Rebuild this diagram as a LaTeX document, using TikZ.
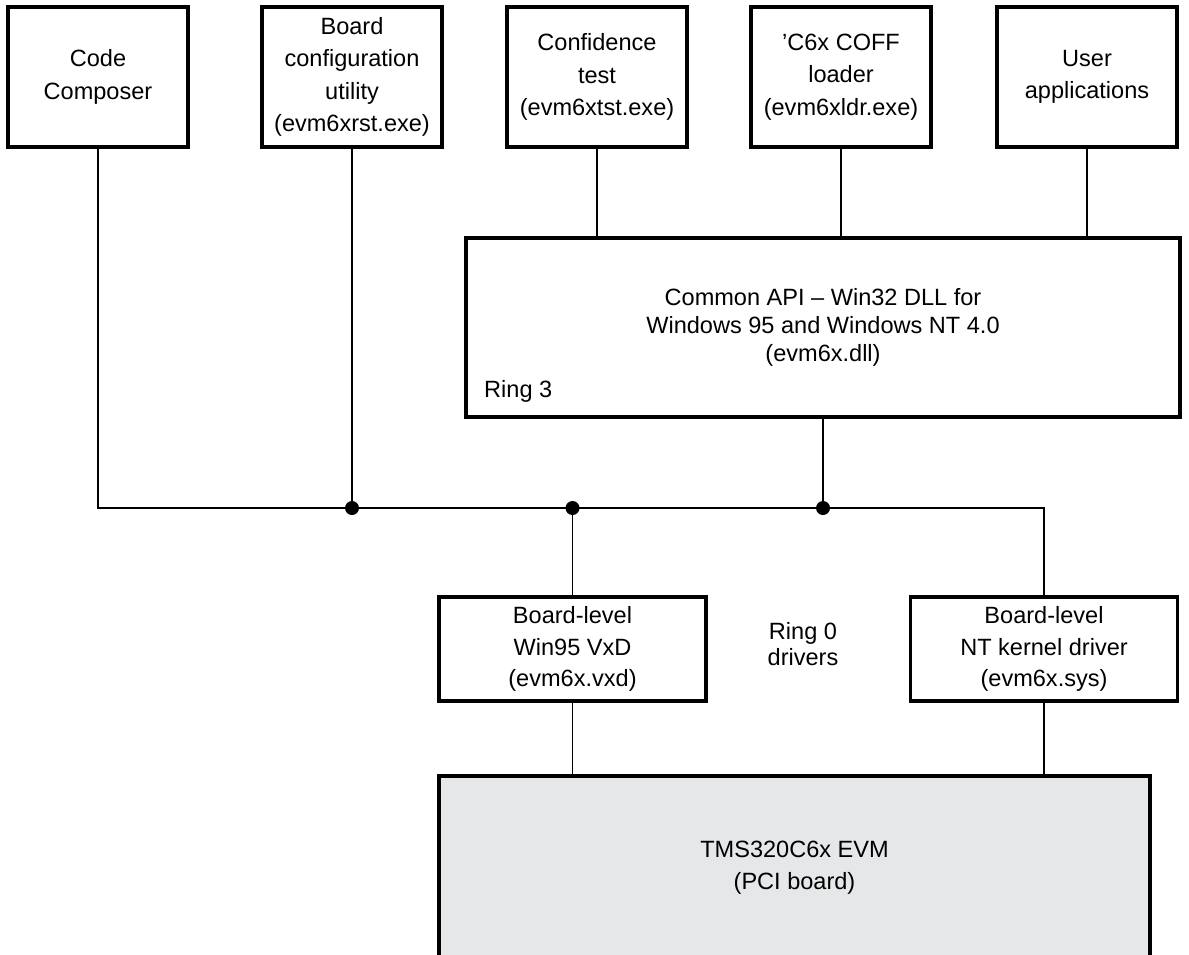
\documentclass[tikz,border=0pt]{standalone}
\usepackage{fontspec}
\setmainfont{Liberation Sans}
\usetikzlibrary{positioning}
\definecolor{boardgray}{HTML}{E6E7E8}

\begin{document}
\begin{tikzpicture}[
  x=0.02cm, y=-0.02cm,
  box/.style={rectangle, draw, line width=2pt, fill=white, align=center, inner sep=2pt},
  appbox/.style={box, minimum width=3.6cm, minimum height=2.8cm},
  drvbox/.style={box, minimum width=5.34cm, minimum height=2.08cm},
  link/.style={line width=0.6pt},
  junction/.style={circle, fill, inner sep=0pt, minimum size=0.28cm},
  font=\fontsize{13.4}{18.4}\selectfont
]
\useasboundingbox (0,0) rectangle (1189,954);

% Applications
\node[appbox] (cc) at (98,77) {Code\\Composer};
\node[appbox] (bcu) at (352,77) {Board\\configuration\\utility\\(evm6xrst.exe)};
\node[appbox] (conf) at (597,77) {Confidence\\test\\(evm6xtst.exe)};
\node[appbox] (coff) at (841,77) {'C6x COFF\\loader\\(evm6xldr.exe)};
\node[appbox] (user) at (1087,77) {User\\applications};

% Common API
\node[box, minimum width=14.28cm, minimum height=3.58cm,
  font=\fontsize{13.4}{16}\selectfont] (api) at (823,327.5)
  {Common API -- Win32 DLL for\\Windows 95 and Windows NT 4.0\\(evm6x.dll)};
\node[anchor=base west] (ring3) at (478,397) {Ring 3};

% Drivers
\node[drvbox, font=\fontsize{13.4}{18}\selectfont] (vxd) at (572.5,649) {Board-level\\Win95 VxD\\(evm6x.vxd)};
\node[drvbox, font=\fontsize{13.4}{18}\selectfont] (ntd) at (1044,649) {Board-level\\NT kernel driver\\(evm6x.sys)};
\node[align=center, font=\fontsize{13.4}{14.5}\selectfont] (ring0) at (803,644) {Ring 0\\drivers};

% Board
\begin{scope}
\clip (0,0) rectangle (1189,954);
\node[box, fill=boardgray, minimum width=14.22cm, minimum height=3.68cm] (evm) at (794.5,868)
  {TMS320C6x EVM\\(PCI board)};
\end{scope}

% Bus
\coordinate (bus) at (0,508);
\coordinate (j1) at (bcu.south |- bus);
\coordinate (j2) at (vxd.north |- bus);
\coordinate (j3) at (api.south |- bus);

% Connectors
\draw[link] (cc.south) |- (j1);
\draw[link] (bcu.south) -- (j1);
\draw[link] (j1) -- (j2) -- (j3);
\draw[link] (j3) -| (ntd.north);
\draw[link] (api.south) -- (j3);
\draw[link] (vxd.north) -- (j2);
\draw[link] (conf.south) -- (conf.south |- api.north);
\draw[link] (coff.south) -- (coff.south |- api.north);
\draw[link] (user.south) -- (user.south |- api.north);
\draw[link] (vxd.south) -- (vxd.south |- evm.north);
\draw[link] (ntd.south) -- (ntd.south |- evm.north);

% Junction dots
\node[junction] (d1) at (j1) {};
\node[junction] (d2) at (j2) {};
\node[junction] (d3) at (j3) {};

\end{tikzpicture}
\end{document}
